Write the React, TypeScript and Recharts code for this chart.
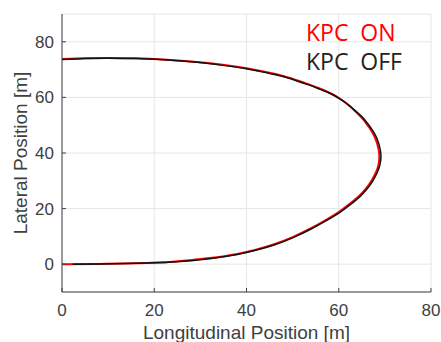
import React from 'react';
import { LineChart, Line, XAxis, YAxis, CartesianGrid, Legend } from 'recharts';

// trajectory, in drive order (out along y=0, around the turn, back at y~74)
const onX = [0, 8, 16, 24, 32, 38, 42, 46, 50, 54, 57, 60, 62.3, 64.3, 65.9, 67.1, 68.0, 68.6, 68.8, 68.65, 68.3, 67.75, 67, 66, 64.8, 63.4, 61.9, 60.3, 58.2, 56, 53.5, 50.5, 47.5, 44, 40, 34, 28, 22, 16, 10, 5, 0];
const onY = [0, 0.1, 0.35, 0.9, 2.2, 3.7, 5.2, 7.2, 9.75, 12.95, 15.7, 18.75, 21.6, 24.4, 27.2, 30.0, 32.8, 35.6, 38.6, 41.1, 43.5, 45.9, 48.2, 50.6, 53, 55.3, 57.5, 59.5, 61.5, 63.1, 64.7, 66.4, 67.9, 69.2, 70.5, 71.9, 72.9, 73.6, 74.05, 74.2, 74.1, 73.8];

const offX = [2.3, 8, 16, 24, 32, 38, 42, 46, 50, 54, 57, 60.1, 62.5, 64.6, 66.2, 67.4, 68.3, 68.9, 69.15, 69.0, 68.65, 68.1, 67.3, 66.3, 65.1, 63.6, 62.1, 60.4, 58.3, 56, 53.5, 50.5, 47.5, 44, 40, 34, 28, 22, 16, 10, 5, 0];
const offY = [0, 0.05, 0.3, 0.8, 2.0, 3.5, 5.0, 6.9, 9.45, 12.65, 15.4, 18.5, 21.4, 24.3, 27.2, 30.0, 32.8, 35.6, 38.6, 41.1, 43.5, 45.9, 48.2, 50.5, 52.9, 55.2, 57.3, 59.3, 61.3, 62.9, 64.5, 66.2, 67.7, 69.0, 70.3, 71.7, 72.8, 73.5, 73.95, 74.1, 74.0, 73.6];

const xTicks = [0, 20, 40, 60, 80];
const yTicks = [0, 20, 40, 60, 80];

const kpcOn = onX.map((x, i) => ({ x, y: onY[i] }));
const kpcOff = offX.map((x, i) => ({ x, y: offY[i] }));

const axisColor = '#404040';
const font = '"Liberation Sans", Arial, sans-serif';

const LegendBox = () => (
  <div style={{ fontFamily: '"Open Sans", sans-serif', fontSize: 23, lineHeight: '29px', whiteSpace: 'pre' }}>
    <div style={{ color: '#ff0000' }}>KPC  ON</div>
    <div style={{ color: '#222222' }}>KPC  OFF</div>
  </div>
);

const App: React.FC = () => {
  return (
    <div style={{ position: 'absolute', left: 0, top: 0 }}>
      <LineChart width={441} height={342} margin={{ top: 14, right: 10, bottom: 0, left: 0 }}>
        <CartesianGrid stroke="#e6e6e6" strokeWidth={1} />
        <XAxis
          dataKey="x"
          type="number"
          domain={[0, 80]}
          ticks={xTicks}
          height={50}
          stroke={axisColor}
          tickSize={-4}
          tickMargin={16}
          tick={{ fill: axisColor, fontSize: 17, fontFamily: font }}
          label={{ value: 'Longitudinal Position [m]', position: 'insideBottom', offset: 3, fill: axisColor, fontSize: 19, fontFamily: font }}
        />
        <XAxis
          xAxisId="top"
          orientation="top"
          dataKey="x"
          type="number"
          domain={[0, 80]}
          ticks={xTicks}
          height={0}
          stroke={axisColor}
          tickSize={-4}
          tickFormatter={() => ''}
        />
        <YAxis
          type="number"
          domain={[-10, 90]}
          ticks={yTicks}
          width={62}
          stroke={axisColor}
          tickSize={-4}
          tickMargin={12}
          tick={{ fill: axisColor, fontSize: 17, fontFamily: font }}
          label={{ value: 'Lateral Position [m]', angle: -90, position: 'insideLeft', offset: 20, style: { textAnchor: 'middle' }, fill: axisColor, fontSize: 19, fontFamily: font }}
        />
        <YAxis
          yAxisId="right"
          orientation="right"
          type="number"
          domain={[-10, 90]}
          ticks={yTicks}
          width={0}
          stroke={axisColor}
          tickSize={-4}
          tickFormatter={() => ''}
        />
        <Legend
          layout="horizontal"
          verticalAlign="middle"
          align="center"
          wrapperStyle={{ left: 306, top: 18, width: 'auto' }}
          content={() => <LegendBox />}
        />
        <Line data={kpcOn} dataKey="y" type="natural" stroke="#ff0000" strokeWidth={2} dot={false} isAnimationActive={false} />
        <Line data={kpcOff} dataKey="y" type="natural" stroke="#111111" strokeWidth={1.5} dot={false} isAnimationActive={false} />
      </LineChart>
    </div>
  );
};

export default App;
